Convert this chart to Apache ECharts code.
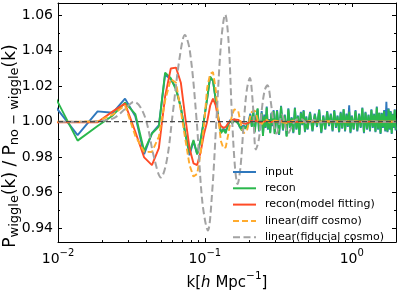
<!DOCTYPE html>
<html><head><meta charset="utf-8">
<script src="https://cdn.jsdelivr.net/npm/echarts@6/dist/echarts.min.js"></script>
<style>html,body{margin:0;padding:0;background:#fff}#c{width:399px;height:296px}</style>
</head><body><div id="c"></div><script>
// ---- data ----
const kA = [0.0086,0.0136,0.0186,0.0236,0.0286,0.0336,0.0386,0.0436,0.0486,0.0536,0.0586,0.0636,0.0686,0.0736,0.0786,0.0836,0.0886,0.0936,0.0986,0.1036,0.1086,0.1136,0.1186,0.1236,0.1286,0.1336,0.1386,0.1436,0.1486,0.1536,0.1586,0.1636,0.1686,0.1736,0.1786,0.1836,0.1886,0.1936,0.1986,0.2036,0.2086,0.2136,0.2186,0.2236,0.2286,0.2336,0.2386,0.2436,0.2486,0.2536,0.2586,0.2636,0.2686,0.2736,0.2786,0.2836,0.2886,0.2936,0.2986];
const inputA = [1.0136,0.9924,1.0058,1.0050,1.0130,1.0030,0.9816,0.9935,0.9980,1.0265,1.0240,1.0190,1.0080,0.9930,0.9810,0.9890,0.9816,0.9900,1.0010,1.0130,1.0250,1.0230,1.0120,1.0020,0.9940,0.9960,0.9950,0.9975,1.0010,0.9995,1.0015,1.0010,0.9990,0.9965,0.9955,0.9980,0.9965,0.9960,1.0000,1.0045,0.9975,1.0055,0.9950,1.0030,1.0070,0.9945,0.9990,1.0060,0.9925,1.0040,0.9965,1.0085,0.9955,1.0015,0.9940,1.0050,0.9975,1.0065,0.9935];
const reconA = [1.0214,0.9893,0.9975,1.0035,1.0108,1.0043,0.9834,0.9933,0.9972,1.0277,1.0246,1.0180,1.0080,0.9930,0.9825,0.9897,0.9816,0.9895,1.0010,1.0130,1.0255,1.0230,1.0120,1.0020,0.9935,0.9955,0.9935,0.9985,1.0005,0.9990,1.0010,1.0015,0.9990,0.9970,0.9950,0.9975,0.9960,0.9955,0.9990,1.0035,0.9970,1.0060,0.9940,1.0020,1.0075,0.9950,0.9985,1.0050,0.9920,1.0030,0.9970,1.0080,0.9960,1.0010,0.9935,1.0045,0.9980,1.0060,0.9930];
const modelA = [0.9996,0.9996,0.9997,1.0058,1.0102,0.9943,0.9798,0.9755,0.9850,1.0142,1.0300,1.0305,1.0220,1.0020,0.9850,0.9765,0.9755,0.9830,0.9930,1.0000,1.0090,1.0130,1.0090,1.0010,0.9975,0.9965,0.9970,0.9990,1.0005,1.0010,1.0012,1.0013,1.0010,1.0005,0.9995,0.9990,0.9988,0.9990,0.9995,1.0000,1.0004,1.0006,1.0006,1.0004,1.0001,0.9998,0.9996,0.9996,0.9998,1.0001,1.0003,1.0004,1.0003,1.0001,0.9999,0.9998,0.9998,0.9999,1.0000];
const diffA = [1.0000,1.0000,1.0002,1.0040,1.0092,0.9920,0.9830,0.9829,0.9915,1.0120,1.0240,1.0220,1.0060,0.9900,0.9755,0.9690,0.9705,0.9825,0.9980,1.0190,1.0270,1.0280,1.0180,1.0010,0.9890,0.9850,0.9855,0.9920,0.9990,1.0040,1.0070,1.0076,1.0060,1.0010,0.9960,0.9935,0.9932,0.9950,0.9990,1.0030,1.0055,1.0066,1.0062,1.0040,1.0010,0.9990,0.9982,0.9985,0.9995,1.0008,1.0014,1.0012,1.0004,0.9996,0.9992,0.9994,1.0000,1.0006,1.0008];

const kB = [0.31,0.32,0.33,0.34,0.35,0.36,0.37,0.38,0.39,0.40,0.41,0.42,0.43,0.44,0.45,0.46,0.47,0.48,0.49,0.50,
  0.52,0.54,0.56,0.58,0.60,0.62,0.64,0.66,0.68,0.70,0.72,0.74,0.76,0.78,0.80,0.82,0.84,0.86,0.88,0.90,0.92,0.94,0.96,0.98,1.00,
  1.03,1.06,1.09,1.12,1.15,1.18,1.21,1.24,1.27,1.30,1.33,1.36,1.39,1.42,1.45,1.48,1.51,1.54,1.57,1.60,1.63,1.66,1.69,1.72,1.75,1.78,1.81,1.84,1.87,1.90,1.93,1.96,1.99];
const inputB = [1.0065,0.9925,1.0090,0.9950,1.0040,0.9920,1.0075,0.9965,1.0025,0.9935,
  1.0080,0.9955,1.0035,0.9930,1.0055,0.9980,1.0065,0.9940,1.0030,0.9955,
  1.0055,0.9945,1.0045,0.9970,1.0070,0.9935,1.0035,0.9955,1.0060,0.9975,
  1.0045,0.9945,1.0065,0.9965,1.0035,0.9940,1.0055,0.9960,1.0070,0.9945,
  1.0045,0.9970,1.0092,0.9935,1.0035,
  0.9955,1.0065,0.9945,1.0045,0.9965,1.0080,0.9935,1.0055,0.9955,1.0040,
  0.9945,1.0070,0.9965,1.0045,0.9940,1.0085,0.9955,1.0050,0.9930,1.0050,
  0.9965,1.0065,0.9945,1.0112,0.9940,1.0075,0.9955,1.0060,0.9930,1.0045,
  0.9965,1.0070,0.9950];
const reconB = [1.0060,0.9930,1.0085,0.9955,1.0035,0.9915,1.0070,0.9970,1.0020,0.9940,
  1.0075,0.9960,1.0030,0.9925,1.0050,0.9985,1.0060,0.9945,1.0025,0.9960,
  1.0050,0.9950,1.0040,0.9975,1.0065,0.9940,1.0030,0.9960,1.0055,0.9980,
  1.0040,0.9950,1.0060,0.9970,1.0030,0.9945,1.0050,0.9965,1.0070,0.9950,
  1.0040,0.9975,1.0055,0.9940,1.0030,
  0.9960,1.0060,0.9950,1.0040,0.9970,1.0075,0.9940,1.0050,0.9960,1.0035,
  0.9950,1.0065,0.9970,1.0040,0.9945,1.0080,0.9960,1.0050,0.9935,1.0045,
  0.9970,1.0060,0.9950,1.0030,0.9945,1.0070,0.9960,1.0055,0.9935,1.0040,
  0.9970,1.0065,0.9955];

const kC = [0.3036,0.33,0.36,0.40,0.45,0.52,0.60,0.70,0.85,1.0,1.25,1.6,2.0];
const modelC = [1.0000,1.0002,0.9999,1.0001,0.9999,1.0001,1.0000,1.0000,1.0000,1.0000,1.0000,1.0000,1.0000];
const diffC = [1.0006,0.9998,0.9992,1.0006,0.9996,1.0004,0.9998,1.0003,0.9999,1.0001,1.0000,1.0000,1.0000];

const kFid = [0.0086,0.0150,0.0200,0.0240,0.0285,0.0329,0.0365,0.0403,0.0450,0.0502,0.0550,0.0605,0.0670,0.0731,0.0790,0.0880,0.0960,0.1048,0.1120,0.1200,0.1290,0.1374,0.1450,0.1525,0.1600,0.1669,0.1750,0.1842,0.1930,0.2023,0.2120,0.2223,0.2330,0.2450,0.2560,0.2670,0.2800,0.2940,0.3075,0.3200,0.3340,0.3500,0.3670,0.3900,0.4160,0.4500,0.5000,0.5500,0.6200,0.7000,0.8000,0.9500,1.1000,1.3000,1.6000,2.0000];
const fidV = [1.000,1.000,1.0005,1.002,1.007,1.0112,1.008,0.999,0.980,0.9685,0.978,1.005,1.035,1.0489,1.040,1.000,0.955,0.9386,0.960,1.002,1.045,1.0605,1.045,1.005,0.975,0.9648,0.975,1.000,1.018,1.0246,1.010,0.9843,0.990,1.008,1.018,1.0205,1.012,0.999,0.9933,0.998,1.004,0.999,0.9933,0.997,1.001,1.0015,0.999,1.001,0.9995,1.0005,0.9998,1.0003,0.9998,1.0002,0.9999,1.000];

const refK = [0.01, 2.0];
const refV = [1.0, 1.0];

const xMinor = [0.02,0.03,0.04,0.05,0.06,0.07,0.08,0.09,0.2,0.3,0.4,0.5,0.6,0.7,0.8,0.9,2.0];
const names = ['input','recon','recon(model fitting)','linear(diff cosmo)','linear(fiducial cosmo)'];
const colors = ['#2f78bd','#2ab84c','#ff4b26','#ffab2e','#a3a3a3'];

// ---- build ----
const zip = (ks, vs) => ks.map((k, i) => [k, vs[i]]);
const F = 'DejaVu Sans';
const chart = echarts.init(document.getElementById('c'), null, {renderer: 'canvas'});

const xAxisBase = {
  type: 'log', logBase: 10, min: 0.01, max: 2,
  axisLine: {show: true, onZero: false, lineStyle: {color: '#000', width: 1}},
  axisTick: {show: true, inside: true, length: 4, lineStyle: {color: '#000', width: 1}},
  splitLine: {show: false}
};
const yAxisBase = {
  type: 'value', min: 0.932, max: 1.067, splitNumber: 7, scale: true,
  axisLine: {show: true, onZero: false, lineStyle: {color: '#000', width: 1}},
  axisTick: {show: true, inside: true, length: 4, lineStyle: {color: '#000', width: 1}},
  minorTick: {show: true, splitNumber: 2, length: 2, lineStyle: {color: '#000', width: 1}},
  splitLine: {show: false}
};

const supFmt = v => {
  const e = Math.log10(v);
  if (Math.abs(e - Math.round(e)) > 1e-6) return '';
  const r = Math.round(e);
  return '{b|10}{p|' + (r < 0 ? '\u2212' + (-r) : r) + '}';
};

const option = {
  animation: false,
  backgroundColor: '#fff',
  color: colors,
  grid: {left: 58, right: 3, top: 3, bottom: 42, containLabel: false},
  xAxis: [
    Object.assign({}, xAxisBase, {
      position: 'bottom',
      axisLabel: {
        show: true, margin: 6, formatter: supFmt, showMaxLabel: false,
        rich: {
          b: {fontFamily: F, fontSize: 14, color: '#000', lineHeight: 18, verticalAlign: 'bottom'},
          p: {fontFamily: F, fontSize: 10, color: '#000', lineHeight: 12, verticalAlign: 'top'}
        }
      },
      name: '{n|k[}{i|h}{n| Mpc}{s|\u22121}{n|]}',
      nameLocation: 'middle', nameGap: 26,
      nameTextStyle: {
        rich: {
          n: {fontFamily: F, fontSize: 15, color: '#000', lineHeight: 20, verticalAlign: 'bottom'},
          i: {fontFamily: F, fontSize: 15, fontStyle: 'italic', color: '#000', lineHeight: 20, verticalAlign: 'bottom'},
          s: {fontFamily: F, fontSize: 10.5, color: '#000', lineHeight: 12, verticalAlign: 'top'}
        }
      }
    }),
    Object.assign({}, xAxisBase, {position: 'top', axisLabel: {show: false}})
  ],
  yAxis: [
    Object.assign({}, yAxisBase, {
      position: 'left',
      axisLabel: {
        show: true, margin: 5, fontFamily: F, fontSize: 14, color: '#000',
        formatter: v => (Math.abs(v * 50 - Math.round(v * 50)) < 1e-6 ? v.toFixed(2) : '')
      }
    }),
    Object.assign({}, yAxisBase, {position: 'right', axisLabel: {show: false}})
  ],
  legend: {
    data: names, orient: 'vertical', left: 232, top: 166, padding: 0,
    itemWidth: 23, itemHeight: 12, itemGap: 4.3,
    itemStyle: {opacity: 0},
    textStyle: {fontFamily: F, fontSize: 11, color: '#000', lineHeight: 12, padding: [0, 0, 0, 4]}
  },
  graphic: [{
    type: 'text', x: 11, y: 146, rotation: Math.PI / 2,
    style: {
      text: '{m|P}{s|wiggle}{m|(k) / P}{s|no \u2212 wiggle}{m|(k)}',
      align: 'center', verticalAlign: 'middle',
      rich: {
        m: {fontFamily: F, fontSize: 17, fill: '#000', lineHeight: 20, verticalAlign: 'middle'},
        s: {fontFamily: F, fontSize: 13, fill: '#000', lineHeight: 12, verticalAlign: 'bottom'}
      }
    }
  }],
  series: [
    {name: names[0], type: 'line', data: zip(kA, inputA).concat(zip(kB, inputB)), showSymbol: false, symbol: 'none',
     lineStyle: {color: colors[0], width: 1.9}, itemStyle: {color: colors[0]}},
    {name: names[1], type: 'line', data: zip(kA, reconA).concat(zip(kB, reconB)), showSymbol: false, symbol: 'none',
     lineStyle: {color: colors[1], width: 1.9}, itemStyle: {color: colors[1]}},
    {name: names[2], type: 'line', data: zip(kA, modelA).concat(zip(kC, modelC)), showSymbol: false, symbol: 'none',
     lineStyle: {color: colors[2], width: 1.9}, itemStyle: {color: colors[2]}},
    {name: names[3], type: 'line', data: zip(kA, diffA).concat(zip(kC, diffC)), showSymbol: false, symbol: 'none',
     lineStyle: {color: colors[3], width: 1.9, type: [6, 3]}, itemStyle: {color: colors[3]}},
    {name: names[4], type: 'line', data: zip(kFid, fidV), showSymbol: false, symbol: 'none', smooth: 0.35,
     lineStyle: {color: colors[4], width: 2, type: [7, 3.5]}, itemStyle: {color: colors[4]}},
    {name: 'ref', type: 'line', data: zip(refK, refV), showSymbol: false, symbol: 'none',
     lineStyle: {color: '#4a4a4a', width: 1.1, type: [5, 3]}, z: 3},
    {name: 'minor', type: 'custom', xAxisIndex: 0, yAxisIndex: 0, silent: true, z: 5,
     data: xMinor.map(k => [k, 1]),
     renderItem: (params, api) => {
       const p = api.coord([api.value(0), 1]);
       const cs = params.coordSys;
       const x = Math.round(p[0]) + 0.5;
       return {type: 'group', children: [
         {type: 'line', shape: {x1: x, y1: cs.y + cs.height, x2: x, y2: cs.y + cs.height - 2}, style: {stroke: '#000', lineWidth: 1}},
         {type: 'line', shape: {x1: x, y1: cs.y, x2: x, y2: cs.y + 2}, style: {stroke: '#000', lineWidth: 1}}
       ]};
     }}
  ]
};
chart.setOption(option);
</script></body></html>
